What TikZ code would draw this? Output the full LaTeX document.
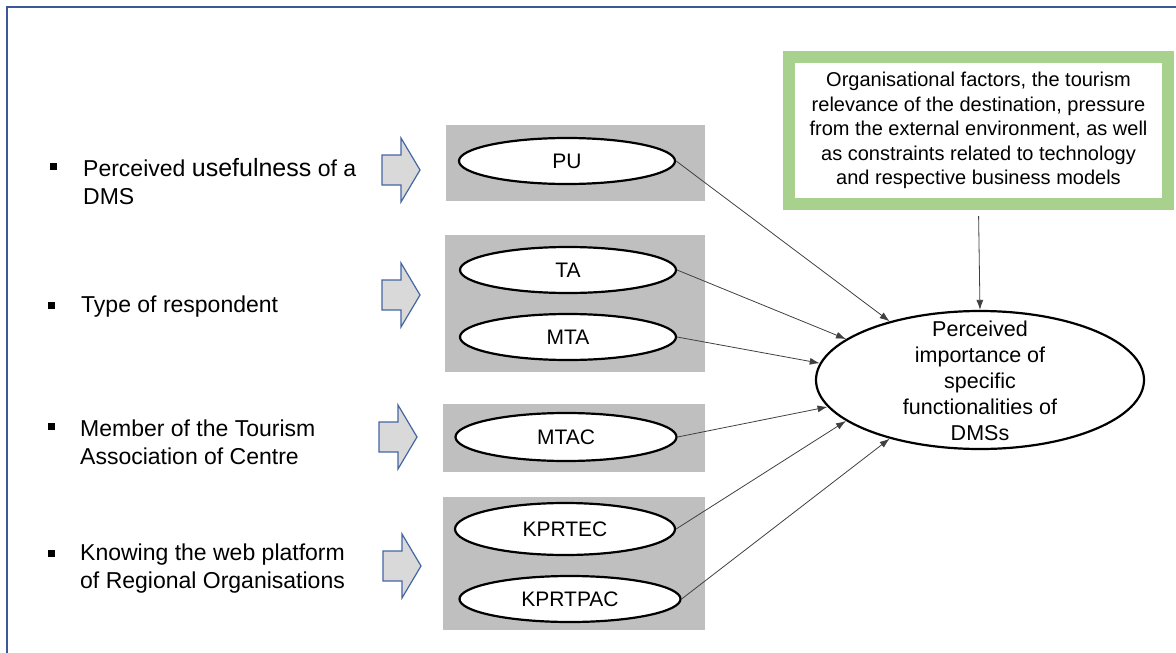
\documentclass[tikz,border=0pt]{standalone}
\usepackage{fontspec}
\setmainfont{Liberation Sans}
\usetikzlibrary{arrows.meta,shapes.geometric}
\definecolor{frameblue}{RGB}{59,89,152}
\definecolor{arrowblue}{RGB}{68,102,163}
\definecolor{arrowgray}{RGB}{217,217,217}
\definecolor{groupgray}{RGB}{191,191,191}
\definecolor{boxgreen}{RGB}{169,209,142}
\definecolor{linkgray}{RGB}{64,64,64}
\tikzset{
  grouprect/.style={fill=groupgray, inner sep=0pt},
  factor/.style={ellipse, draw=black, line width=2.2pt, fill=white, inner sep=0pt,
    minimum width=216pt, minimum height=46pt, font=\fontsize{21}{25}\selectfont},
  outcome/.style={ellipse, draw=black, line width=2.2pt, fill=white, inner sep=0pt,
    minimum width=328pt, minimum height=138pt},
  outcometext/.style={align=center, inner sep=0pt, font=\fontsize{21.5}{26}\selectfont},
  context/.style={draw=boxgreen, line width=12pt, fill=white, align=center,
    minimum width=379pt, minimum height=147pt, inner sep=0pt, font=\fontsize{20}{24.5}\selectfont},
  link/.style={draw=linkgray, line width=0.8pt, -{Latex[length=10pt,width=7pt]}},
  bulletmark/.style={fill=black, inner sep=0pt, minimum size=7pt},
  itemtext/.style={anchor=west, align=left, inner sep=0pt, font=\fontsize{23}{28}\selectfont},
  pics/blockarrow/.style={code={
    \draw[draw=arrowblue, fill=arrowgray, line width=1.2pt, line join=miter]
      (0,-15) -- (19,-15) -- (19,-32) -- (38,0) -- (19,32) -- (19,15) -- (0,15) -- cycle;
  }}
}
\begin{document}
\begin{tikzpicture}[x=1pt,y=-1pt]
\useasboundingbox (0,0) rectangle (1176,653);
% frame
\draw[frameblue, line width=2pt] (7,653) -- (7,7) -- (1176,7);

% left hand items
\node[bulletmark] (b1) at (53.5,166) {};
\node[itemtext] (t1) at (83,182) {Perceived {\fontsize{25}{28}\selectfont usefulness} of a\\DMS};
\node[bulletmark] (b2) at (51,305) {};
\node[itemtext] (t2) at (81,307) {Type of respondent};
\node[bulletmark] (b3) at (51,426) {};
\node[itemtext] (t3) at (80,442) {Member of the Tourism\\Association of Centre};
\node[bulletmark] (b4) at (51,553) {};
\node[itemtext] (t4) at (80,569) {Knowing the web platform\\of Regional Organisations};

% block arrows
\pic at (382,170) {blockarrow};
\pic at (382,295) {blockarrow};
\pic at (379,437) {blockarrow};
\pic at (383,566) {blockarrow};

% grey groups
\node[grouprect, minimum width=259pt, minimum height=76pt] (g1) at (575.5,163) {};
\node[grouprect, minimum width=260pt, minimum height=137pt] (g2) at (575,303.5) {};
\node[grouprect, minimum width=262pt, minimum height=68pt] (g3) at (574,438) {};
\node[grouprect, minimum width=262pt, minimum height=133pt] (g4) at (574,563.5) {};

% variables
\node[factor] (pu) at (567,161) {PU};
\node[factor] (ta) at (568,270) {TA};
\node[factor] (mta) at (568,337) {MTA};
\node[factor, minimum width=221pt, minimum height=48pt] (mtac) at (566,437) {MTAC};
\node[factor, minimum width=220pt, minimum height=52pt] (kprtec) at (565,529) {KPRTEC};
\node[factor, minimum width=221pt] (kprtpac) at (570,599) {KPRTPAC};

% outcome and context
\node[outcome] (imp) at (980,380) {};
\node[outcometext] (imptext) at (980,381) {Perceived\\importance of\\specific\\functionalities of\\DMSs};
\node[context] (ctx) at (978.5,130.5) {Organisational factors, the tourism\\relevance of the destination, pressure\\from the external environment, as well\\as constraints related to technology\\and respective business models};

% links
\draw[link] (pu.east) -- (imp.147);
\draw[link] (ta.east) -- (imp.163);
\draw[link] (mta.east) -- (imp.174.5);
\draw[link] (mtac.east) -- (imp.190);
\draw[link] (kprtec.east) -- (imp.197);
\draw[link] (kprtpac.east) -- (imp.213);
\draw[link, shorten <=6pt] (ctx.south) -- (imp.north);
\end{tikzpicture}
\end{document}
